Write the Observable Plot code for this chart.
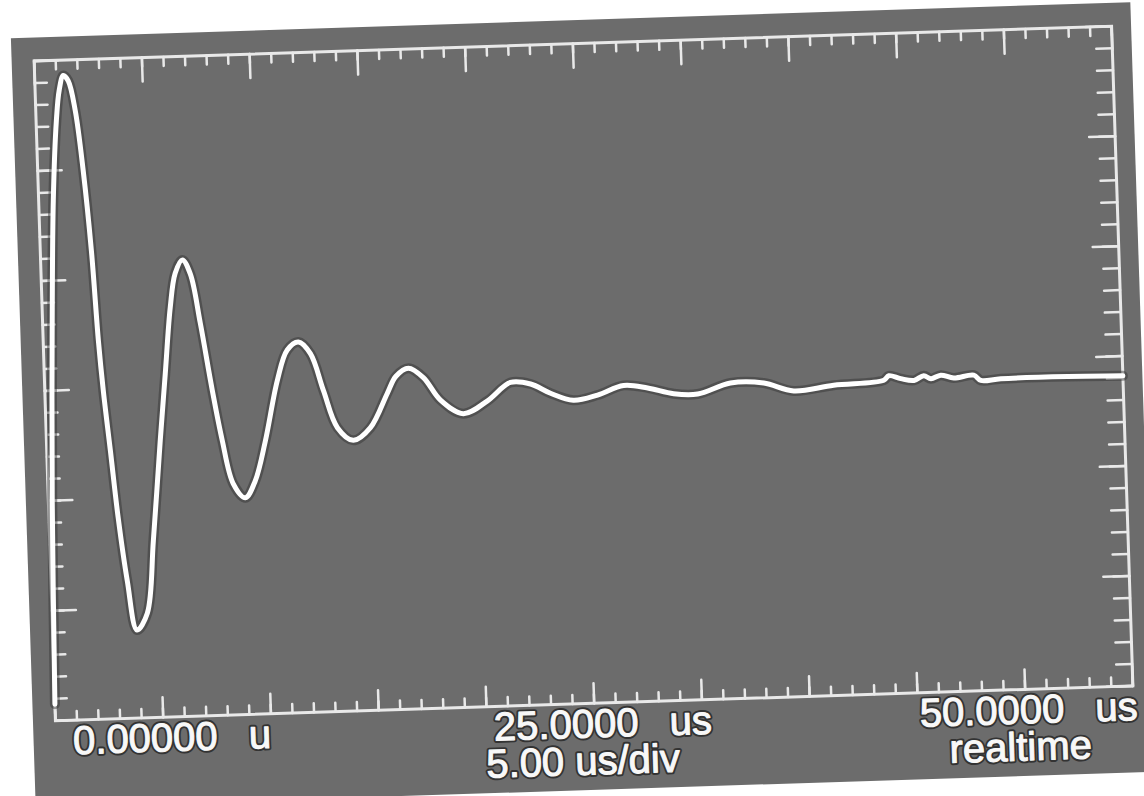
<!DOCTYPE html>
<html><head><meta charset="utf-8">
<script src="https://cdn.jsdelivr.net/npm/d3@7"></script>
<script src="https://cdn.jsdelivr.net/npm/@observablehq/plot@0.6"></script>
<style>
html,body{margin:0;padding:0;background:#fff;overflow:hidden;width:1144px;height:796px;}
#chart{position:absolute;left:22px;top:20px;width:1120px;height:770px;transform-origin:561px 353px;transform:rotate(-1.85deg);}
#chart svg{display:block;}
</style></head><body><div id="chart"></div>
<script>
// time (us) and deflection (divisions)
const traceT = [0.00, 0.18, 0.40, 0.68, 0.94, 1.12, 1.33, 1.55, 1.83, 2.11, 2.37, 2.56, 2.71, 2.95, 3.21, 3.54, 3.92, 4.42, 4.81, 5.28, 5.61, 5.94, 6.22, 6.57, 6.92, 7.31, 7.77, 8.15, 8.60, 9.14, 9.62, 10.15, 10.80, 11.30, 11.83, 12.37, 12.92, 13.51, 14.23, 15.04, 15.88, 16.30, 16.89, 17.57, 18.33, 19.37, 20.51, 21.60, 22.53, 23.44, 24.49, 25.62, 26.84, 27.95, 29.15, 30.26, 31.80, 33.34, 34.72, 36.58, 38.91, 39.15, 39.70, 40.31, 40.77, 41.10, 41.56, 42.16, 43.09, 43.41, 44.34, 47.45, 50.00];
const traceV = [-2.85, -1.00, 0.37, 1.73, 2.45, 2.73, 2.86, 2.81, 2.54, 1.99, 1.26, 0.44, -0.01, -0.56, -1.17, -1.75, -2.20, -2.05, -1.39, -0.48, 0.12, 0.72, 1.03, 1.15, 1.02, 0.57, -0.05, -0.50, -0.90, -1.03, -0.88, -0.52, 0.03, 0.30, 0.37, 0.26, -0.08, -0.42, -0.54, -0.43, -0.12, 0.03, 0.10, 0.01, -0.20, -0.33, -0.22, -0.06, -0.08, -0.17, -0.24, -0.20, -0.12, -0.15, -0.21, -0.22, -0.13, -0.14, -0.22, -0.18, -0.15, -0.11, -0.14, -0.16, -0.12, -0.15, -0.12, -0.15, -0.13, -0.18, -0.17, -0.17, -0.18];

// graticule edge ticks
const xMinor = [0,1,2,3,4,5,6,7,8,9,10,11,12,13,14,15,16,17,18,19,20,21,22,23,24,25,26,27,28,29,30,31,32,33,34,35,36,37,38,39,40,41,42,43,44,45,46,47,48,49,50];
const xMajor = [0,5,10,15,20,25,30,35,40,45,50];
const yMinor = [-3,-2.8,-2.6,-2.4,-2.2,-2,-1.8,-1.6,-1.4,-1.2,-1,-0.8,-0.6,-0.4,-0.2,0,0.2,0.4,0.6,0.8,1,1.2,1.4,1.6,1.8,2,2.2,2.4,2.6,2.8,3];
const yMajor = [-3,-2,-1,0,1,2,3];

// readout labels
const row1Labels = ["0.00000\u2002\u00a0u", "25.0000\u2002\u00a0us", "50.0000\u2002\u00a0us"];
const row1At = [0, 25, 50];
const row2Labels = ["5.00 us/div", "realtime"];
const row2At = [25, 50];

const trace = traceT.map((t, i) => ({t, v: traceV[i]}));
const row1 = row1Labels.map((text, i) => ({text, at: row1At[i]}));
const row2 = row2Labels.map((text, i) => ({text, at: row2At[i]}));

const ink = "#e9e9e9";
const line = {draw(ctx, l) { ctx.moveTo(0, 0); ctx.lineTo(0, -l); }};
const tk = (data, side, len, rot, horiz) => Plot.vector(data, {
  [horiz ? "x" : "y"]: d => d, frameAnchor: side, rotate: rot, length: len,
  anchor: "start", shape: line, stroke: ink, strokeWidth: 2.5
});

const txt = (data, anchors, dxs, dy) => data.flatMap((d, i) => {
  const base = {x: "at", frameAnchor: "bottom", text: "text", textAnchor: anchors[i], dx: dxs[i], dy,
    lineAnchor: "bottom", fontFamily: "Liberation Sans, Arial, sans-serif", fontSize: 40};
  return [
    Plot.text([d], {...base, fill: "#333", stroke: "#333", strokeWidth: 5}),
    Plot.text([d], {...base, fill: "#f8f8f8", stroke: "#f8f8f8", strokeWidth: 1.1})
  ];
});

const chart = Plot.plot({
  width: 1120, height: 770,
  marginLeft: 22, marginTop: 23, marginRight: 20, marginBottom: 87,
  x: {domain: [0, 50], axis: null},
  y: {domain: [-3, 3], axis: null},
  style: {background: "#6c6c6c", overflow: "visible"},
  marks: [
    tk(xMinor, "top", 9, 180, true), tk(xMajor, "top", 24, 180, true),
    tk(xMinor, "bottom", 9, 0, true), tk(xMajor, "bottom", 20, 0, true),
    tk(yMinor, "left", 12, 90, false), tk(yMajor, "left", 24, 90, false),
    tk(yMinor, "right", 16, -90, false), tk(yMajor, "right", 26, -90, false),
    Plot.frame({stroke: ink, strokeWidth: 3}),
    Plot.line(trace, {x: "t", y: "v", stroke: "#2e2e2e", strokeOpacity: 0.45, strokeWidth: 10, curve: "catmull-rom"}),
    Plot.line(trace, {x: "t", y: "v", stroke: "#ffffff", strokeWidth: 5, curve: "catmull-rom"}),
    ...txt(row1, ["start", "middle", "end"], [17, 8, 4], 34),
    ...txt(row2, ["middle", "end"], [-13, -43], 71)
  ]
});
document.getElementById("chart").append(chart);
</script></body></html>
